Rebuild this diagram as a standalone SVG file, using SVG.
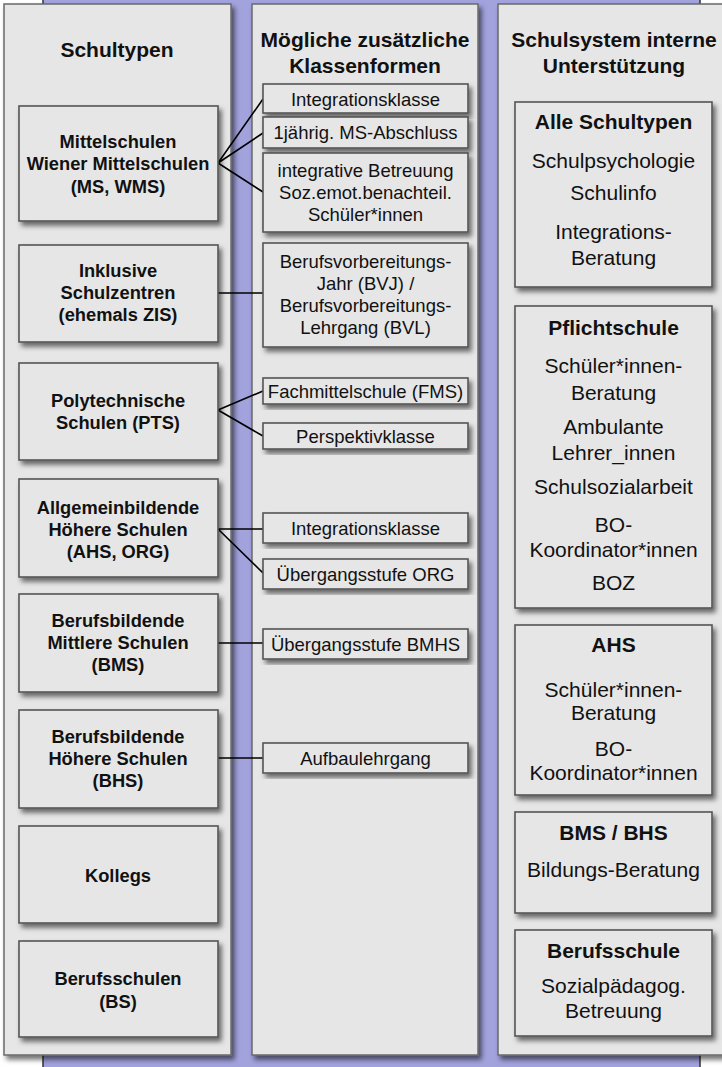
<svg xmlns="http://www.w3.org/2000/svg" width="722" height="1067" viewBox="0 0 722 1067">
<defs>
<filter id="sh" x="-10%" y="-10%" width="130%" height="130%">
<feDropShadow dx="3" dy="4" stdDeviation="2.5" flood-color="#000" flood-opacity="0.55"/>
</filter>
<style>
.col{fill:#e6e6e6;stroke:#6a6a6a;stroke-width:1.5;filter:url(#sh)}
.box{fill:#e6e6e6;stroke:#555;stroke-width:1.6;filter:url(#sh)}
.t{font-family:"Liberation Sans",Arial,sans-serif;fill:#111;text-anchor:middle}
.h{font-size:21px;font-weight:bold}
.lb{font-size:18.3px;font-weight:bold}
.m{font-size:18.5px}
.r{font-size:21px}
.rb{font-size:21px;font-weight:bold}
.c{stroke:#000;stroke-width:1.6;fill:none}
</style>
</defs>
<rect x="0" y="0" width="722" height="1067" fill="#fff"/>
<rect x="43" y="-5" width="657" height="1080" fill="#a2a2dd" stroke="#333" stroke-width="1.5"/>

<g id="col-schultypen">
<rect class="col" x="4" y="4" width="227" height="1051"/>
<text class="t h" x="117" y="57">Schultypen</text>
</g>
<g id="col-klassenformen">
<rect class="col" x="252" y="4" width="226" height="1051"/>
<text class="t h" x="365" y="47">Mögliche zusätzliche</text>
<text class="t h" x="365" y="73">Klassenformen</text>
</g>
<g id="col-unterstuetzung">
<rect class="col" x="498" y="4" width="232" height="1051"/>
<text class="t h" x="614" y="47">Schulsystem interne</text>
<text class="t h" x="614" y="73">Unterstützung</text>
</g>

<g id="connectors">
<path class="c" d="M218 163 L263 99 M218 163 L263 133 M218 163 L263 192"/>
<path class="c" d="M218 293 L263 293"/>
<path class="c" d="M218 410 L263 391 M218 410 L263 436"/>
<path class="c" d="M218 529 L263 529 M218 529 L263 573"/>
<path class="c" d="M218 643 L263 643"/>
<path class="c" d="M218 758 L263 758"/>
</g>

<g id="n-ms">
<rect class="box" x="19" y="106" width="199" height="115"/>
<text class="t lb" x="118" y="148">Mittelschulen</text>
<text class="t lb" x="118" y="170">Wiener Mittelschulen</text>
<text class="t lb" x="118" y="193">(MS, WMS)</text>
</g>
<g id="n-zis">
<rect class="box" x="19" y="245" width="199" height="97"/>
<text class="t lb" x="118" y="277">Inklusive</text>
<text class="t lb" x="118" y="299">Schulzentren</text>
<text class="t lb" x="118" y="321">(ehemals ZIS)</text>
</g>
<g id="n-pts">
<rect class="box" x="19" y="363" width="199" height="97"/>
<text class="t lb" x="118" y="407">Polytechnische</text>
<text class="t lb" x="118" y="429">Schulen (PTS)</text>
</g>
<g id="n-ahs">
<rect class="box" x="19" y="479" width="199" height="98"/>
<text class="t lb" x="118" y="514">Allgemeinbildende</text>
<text class="t lb" x="118" y="536">Höhere Schulen</text>
<text class="t lb" x="118" y="558">(AHS, ORG)</text>
</g>
<g id="n-bms">
<rect class="box" x="19" y="594" width="199" height="98"/>
<text class="t lb" x="118" y="627">Berufsbildende</text>
<text class="t lb" x="118" y="649">Mittlere Schulen</text>
<text class="t lb" x="118" y="671">(BMS)</text>
</g>
<g id="n-bhs">
<rect class="box" x="19" y="710" width="199" height="98"/>
<text class="t lb" x="118" y="743">Berufsbildende</text>
<text class="t lb" x="118" y="765">Höhere Schulen</text>
<text class="t lb" x="118" y="787">(BHS)</text>
</g>
<g id="n-kollegs">
<rect class="box" x="19" y="826" width="199" height="97"/>
<text class="t lb" x="118" y="882">Kollegs</text>
</g>
<g id="n-bs">
<rect class="box" x="19" y="941" width="199" height="96"/>
<text class="t lb" x="118" y="985">Berufsschulen</text>
<text class="t lb" x="118" y="1008">(BS)</text>
</g>

<g id="k-integration1">
<rect class="box" x="263" y="84" width="205" height="29"/>
<text class="t m" x="365.5" y="106">Integrationsklasse</text>
</g>
<g id="k-1jaehrig">
<rect class="box" x="263" y="117" width="205" height="31"/>
<text class="t m" x="365.5" y="139">1jährig. MS-Abschluss</text>
</g>
<g id="k-integrativ">
<rect class="box" x="263" y="153" width="205" height="79"/>
<text class="t m" x="365.5" y="177">integrative Betreuung</text>
<text class="t m" x="365.5" y="199">Soz.emot.benachteil.</text>
<text class="t m" x="365.5" y="221">Schüler*innen</text>
</g>
<g id="k-bvj">
<rect class="box" x="263" y="243" width="205" height="104"/>
<text class="t m" x="365.5" y="268">Berufsvorbereitungs-</text>
<text class="t m" x="365.5" y="290">Jahr (BVJ) /</text>
<text class="t m" x="365.5" y="312">Berufsvorbereitungs-</text>
<text class="t m" x="365.5" y="334">Lehrgang (BVL)</text>
</g>
<g id="k-fms">
<rect class="box" x="263" y="378" width="205" height="26"/>
<text class="t m" x="365.5" y="398">Fachmittelschule (FMS)</text>
</g>
<g id="k-perspektiv">
<rect class="box" x="263" y="423" width="205" height="26"/>
<text class="t m" x="365.5" y="443">Perspektivklasse</text>
</g>
<g id="k-integration2">
<rect class="box" x="263" y="513" width="205" height="30"/>
<text class="t m" x="365.5" y="535">Integrationsklasse</text>
</g>
<g id="k-org">
<rect class="box" x="263" y="559" width="205" height="30"/>
<text class="t m" x="365.5" y="581">Übergangsstufe ORG</text>
</g>
<g id="k-bmhs">
<rect class="box" x="263" y="629" width="205" height="30"/>
<text class="t m" x="365.5" y="651">Übergangsstufe BMHS</text>
</g>
<g id="k-aufbau">
<rect class="box" x="263" y="743" width="205" height="30"/>
<text class="t m" x="365.5" y="765">Aufbaulehrgang</text>
</g>

<g id="u-alle">
<rect class="box" x="515" y="102" width="197" height="185"/>
<text class="t rb" x="613.5" y="129">Alle Schultypen</text>
<text class="t r" x="613.5" y="168">Schulpsychologie</text>
<text class="t r" x="613.5" y="200">Schulinfo</text>
<text class="t r" x="613.5" y="239">Integrations-</text>
<text class="t r" x="613.5" y="265">Beratung</text>
</g>
<g id="u-pflicht">
<rect class="box" x="515" y="306" width="197" height="302"/>
<text class="t rb" x="613.5" y="335">Pflichtschule</text>
<text class="t r" x="613.5" y="373">Schüler*innen-</text>
<text class="t r" x="613.5" y="400">Beratung</text>
<text class="t r" x="613.5" y="434">Ambulante</text>
<text class="t r" x="613.5" y="460">Lehrer_innen</text>
<text class="t r" x="613.5" y="494">Schulsozialarbeit</text>
<text class="t r" x="613.5" y="532">BO-</text>
<text class="t r" x="613.5" y="557">Koordinator*innen</text>
<text class="t r" x="613.5" y="590">BOZ</text>
</g>
<g id="u-ahs">
<rect class="box" x="515" y="625" width="197" height="170"/>
<text class="t rb" x="613.5" y="652">AHS</text>
<text class="t r" x="613.5" y="697">Schüler*innen-</text>
<text class="t r" x="613.5" y="720">Beratung</text>
<text class="t r" x="613.5" y="756">BO-</text>
<text class="t r" x="613.5" y="780">Koordinator*innen</text>
</g>
<g id="u-bmsbhs">
<rect class="box" x="515" y="812" width="197" height="101"/>
<text class="t rb" x="613.5" y="840">BMS / BHS</text>
<text class="t r" x="613.5" y="877">Bildungs-Beratung</text>
</g>
<g id="u-bs">
<rect class="box" x="515" y="930" width="197" height="106"/>
<text class="t rb" x="613.5" y="958">Berufsschule</text>
<text class="t r" x="613.5" y="993">Sozialpädagog.</text>
<text class="t r" x="613.5" y="1018">Betreuung</text>
</g>
</svg>
